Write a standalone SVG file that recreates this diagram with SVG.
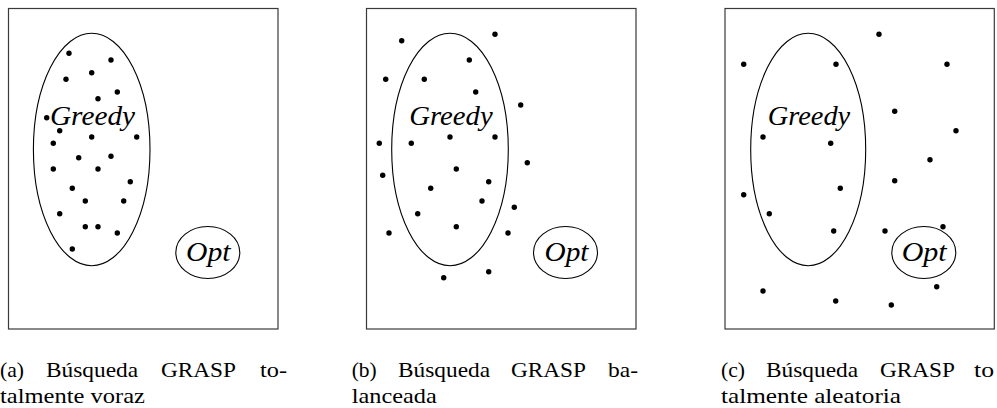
<svg xmlns="http://www.w3.org/2000/svg" width="997" height="408" viewBox="0 0 997 408">
<style>
.box{fill:none;stroke:#3a3a3a;stroke-width:1.2}
.ell{fill:none;stroke:#000;stroke-width:1.1}
.lbl{font-family:"Liberation Serif","Times New Roman",serif;font-style:italic;fill:#000}
.g{font-size:28px}
.o{font-size:27px}
.cap{font-family:"Liberation Serif","Times New Roman",serif;font-size:22px;fill:#000}
.d circle{fill:#000}
</style>
<rect width="997" height="408" fill="#fff"/>
<g id="connectors"/>

<g id="panel-a">
<rect class="box" x="8.5" y="8.5" width="269.5" height="320.5"/>
<g id="a-greedy">
<ellipse class="ell" cx="91.7" cy="149.5" rx="58.3" ry="116.2"/>
<text class="lbl g" x="50" y="124.5" textLength="85" lengthAdjust="spacingAndGlyphs">Greedy</text>
</g>
<g id="a-opt">
<ellipse class="ell" cx="207.8" cy="252.5" rx="32" ry="26"/>
<text class="lbl o" x="186" y="260.5" textLength="44.5" lengthAdjust="spacingAndGlyphs">Opt</text>
</g>
<g id="a-dots" class="d">
<circle cx="69" cy="53.3" r="2.7"/><circle cx="111" cy="60" r="2.7"/><circle cx="91.7" cy="72.7" r="2.7"/>
<circle cx="66" cy="79.3" r="2.7"/><circle cx="117.3" cy="92" r="2.7"/><circle cx="98" cy="98.7" r="2.7"/>
<circle cx="46.7" cy="117.7" r="2.7"/><circle cx="59.7" cy="130.7" r="2.7"/><circle cx="91.7" cy="137" r="2.7"/>
<circle cx="136.7" cy="137" r="2.7"/><circle cx="53.3" cy="143.3" r="2.7"/><circle cx="78.7" cy="157.7" r="2.7"/>
<circle cx="111" cy="156.3" r="2.7"/><circle cx="53.3" cy="169" r="2.7"/><circle cx="98" cy="169" r="2.7"/>
<circle cx="130.3" cy="181.7" r="2.7"/><circle cx="72.3" cy="188.3" r="2.7"/><circle cx="85.3" cy="201" r="2.7"/>
<circle cx="123.7" cy="201" r="2.7"/><circle cx="59.7" cy="213.7" r="2.7"/><circle cx="85.3" cy="226.7" r="2.7"/>
<circle cx="98" cy="226.7" r="2.7"/><circle cx="117.3" cy="233" r="2.7"/><circle cx="72.3" cy="249" r="2.7"/>
</g>
<g id="a-caption" class="cap">
<text y="376.5"><tspan x="0" textLength="24" lengthAdjust="spacingAndGlyphs">(a)</tspan><tspan x="46" textLength="92" lengthAdjust="spacingAndGlyphs">Búsqueda</tspan><tspan x="161" textLength="75" lengthAdjust="spacingAndGlyphs">GRASP</tspan><tspan x="260" textLength="27" lengthAdjust="spacingAndGlyphs">to-</tspan></text>
<text x="0" y="403" textLength="145" lengthAdjust="spacingAndGlyphs">talmente voraz</text>
</g>
</g>

<g id="panel-b">
<rect class="box" x="366.5" y="8.5" width="269.5" height="320.5"/>
<g id="b-greedy">
<ellipse class="ell" cx="450" cy="149.5" rx="58.3" ry="116.2"/>
<text class="lbl g" x="409.3" y="124.5" textLength="83.4" lengthAdjust="spacingAndGlyphs">Greedy</text>
</g>
<g id="b-opt">
<ellipse class="ell" cx="565.5" cy="252.5" rx="32" ry="26"/>
<text class="lbl o" x="544.5" y="260.5" textLength="44" lengthAdjust="spacingAndGlyphs">Opt</text>
</g>
<g id="b-dots" class="d">
<circle cx="401.7" cy="40.7" r="2.7"/><circle cx="495" cy="34.3" r="2.7"/><circle cx="469.3" cy="60" r="2.7"/>
<circle cx="385.7" cy="79.3" r="2.7"/><circle cx="424.3" cy="79.3" r="2.7"/><circle cx="475.7" cy="92" r="2.7"/>
<circle cx="520.7" cy="105" r="2.7"/><circle cx="450" cy="137" r="2.7"/><circle cx="495" cy="137" r="2.7"/>
<circle cx="379.3" cy="143.3" r="2.7"/><circle cx="411.3" cy="143.3" r="2.7"/><circle cx="527.3" cy="162.7" r="2.7"/>
<circle cx="382.7" cy="175.3" r="2.7"/><circle cx="456.3" cy="169" r="2.7"/><circle cx="488.7" cy="181.7" r="2.7"/>
<circle cx="430.7" cy="188.3" r="2.7"/><circle cx="482" cy="201" r="2.7"/><circle cx="514.3" cy="207.3" r="2.7"/>
<circle cx="417.7" cy="213.7" r="2.7"/><circle cx="389" cy="233" r="2.7"/><circle cx="456.3" cy="226.7" r="2.7"/>
<circle cx="508" cy="233" r="2.7"/><circle cx="443.7" cy="277.7" r="2.7"/><circle cx="488.7" cy="271.7" r="2.7"/>
</g>
<g id="b-caption" class="cap">
<text y="376.5"><tspan x="351.7" textLength="25" lengthAdjust="spacingAndGlyphs">(b)</tspan><tspan x="398" textLength="92" lengthAdjust="spacingAndGlyphs">Búsqueda</tspan><tspan x="511" textLength="75" lengthAdjust="spacingAndGlyphs">GRASP</tspan><tspan x="608" textLength="30" lengthAdjust="spacingAndGlyphs">ba-</tspan></text>
<text x="351.7" y="403" textLength="85" lengthAdjust="spacingAndGlyphs">lanceada</text>
</g>
</g>

<g id="panel-c">
<rect class="box" x="725" y="8.5" width="269.3" height="320.5"/>
<g id="c-greedy">
<ellipse class="ell" cx="808.2" cy="149.5" rx="57.5" ry="116.2"/>
<text class="lbl g" x="767.7" y="124.5" textLength="82.5" lengthAdjust="spacingAndGlyphs">Greedy</text>
</g>
<g id="c-opt">
<ellipse class="ell" cx="923.8" cy="252.5" rx="32" ry="26"/>
<text class="lbl o" x="901.7" y="260.5" textLength="45" lengthAdjust="spacingAndGlyphs">Opt</text>
</g>
<g id="c-dots" class="d">
<circle cx="879" cy="34.3" r="2.7"/><circle cx="743.7" cy="64.3" r="2.7"/><circle cx="836" cy="64.3" r="2.7"/>
<circle cx="947" cy="64.3" r="2.7"/><circle cx="894.7" cy="111.3" r="2.7"/><circle cx="956" cy="130.7" r="2.7"/>
<circle cx="763" cy="137" r="2.7"/><circle cx="830.7" cy="143.3" r="2.7"/><circle cx="930" cy="159.7" r="2.7"/>
<circle cx="894.7" cy="180.7" r="2.7"/><circle cx="840.3" cy="188.3" r="2.7"/><circle cx="743.7" cy="194.7" r="2.7"/>
<circle cx="769.3" cy="213.7" r="2.7"/><circle cx="833.7" cy="231" r="2.7"/><circle cx="885" cy="231" r="2.7"/>
<circle cx="943" cy="226.7" r="2.7"/><circle cx="936.7" cy="286.7" r="2.7"/><circle cx="763" cy="291" r="2.7"/>
<circle cx="835.7" cy="301" r="2.7"/><circle cx="891.3" cy="305" r="2.7"/>
</g>
<g id="c-caption" class="cap">
<text y="376.5"><tspan x="721" textLength="24" lengthAdjust="spacingAndGlyphs">(c)</tspan><tspan x="766" textLength="92" lengthAdjust="spacingAndGlyphs">Búsqueda</tspan><tspan x="880" textLength="75" lengthAdjust="spacingAndGlyphs">GRASP</tspan><tspan x="974" textLength="20" lengthAdjust="spacingAndGlyphs">to</tspan></text>
<text x="721" y="403" textLength="180" lengthAdjust="spacingAndGlyphs">talmente aleatoria</text>
</g>
</g>
</svg>
